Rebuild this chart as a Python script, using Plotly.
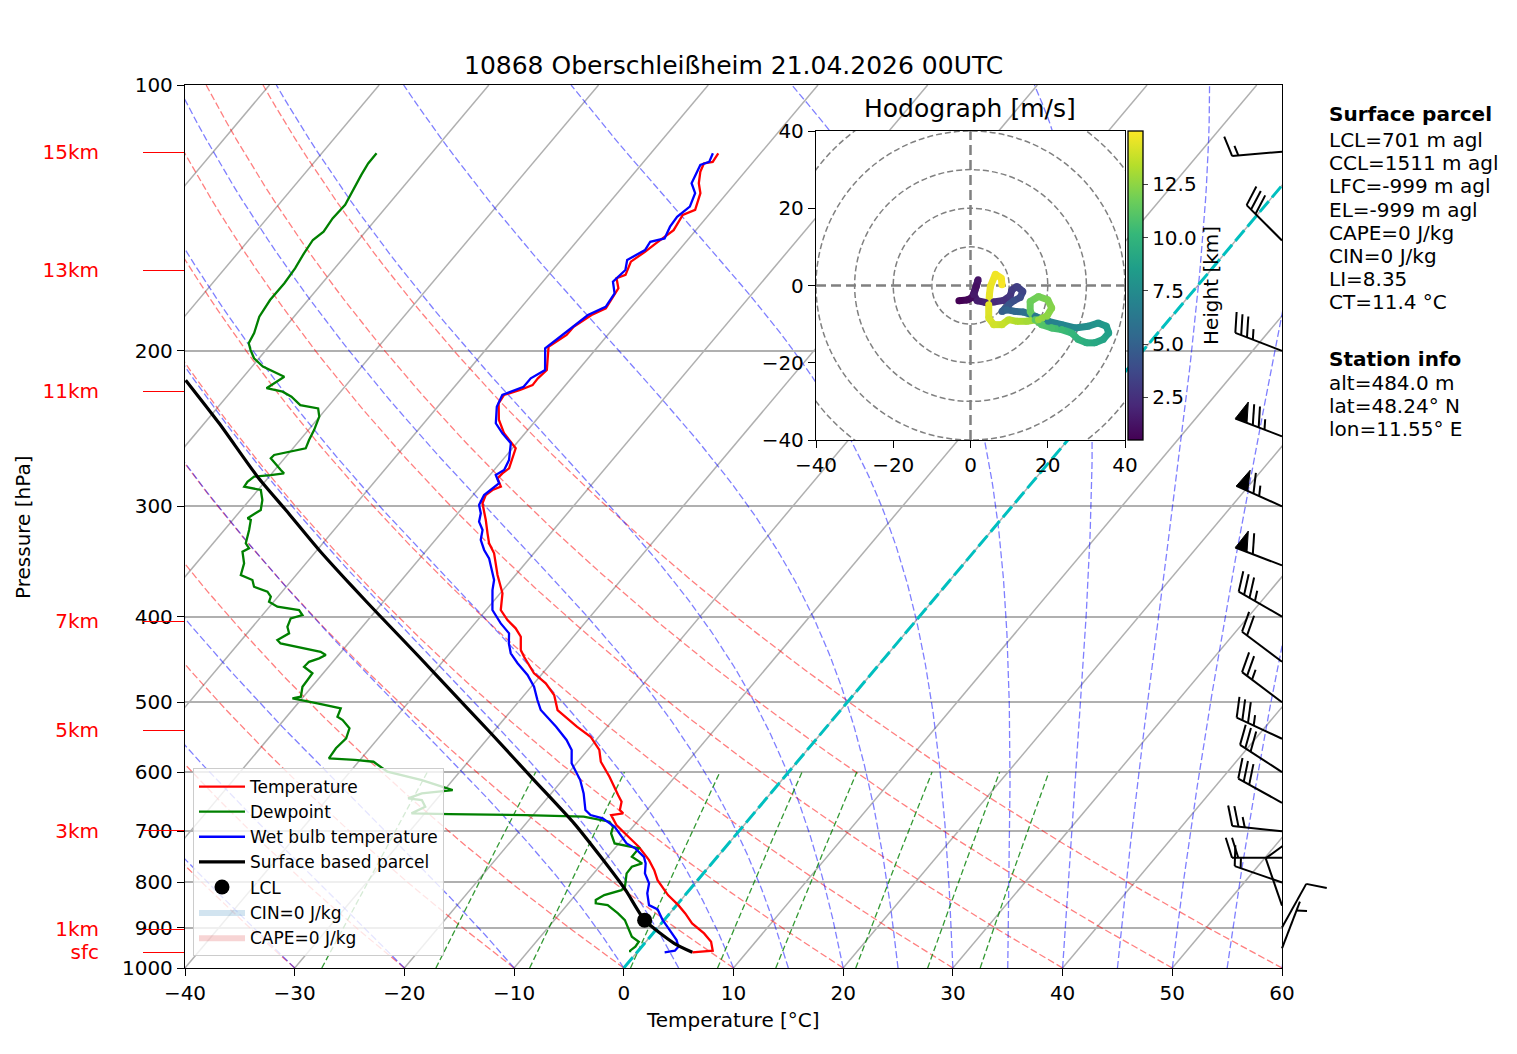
import numpy as np
import plotly.graph_objects as go
from plotly.colors import sample_colorscale

TITLE = "10868 Oberschleißheim 21.04.2026 00UTC"

# ---- sounding (pressure hPa, value degC) ----
T_P = [959.9, 955.9, 933.7, 913.8, 890.3, 867.4, 848.8, 826.9, 795.2, 774.7, 754.8, 729.0, 710.2,
       688.9, 671.1, 668.2, 662.4, 648.2, 637.0, 607.3, 584.0, 566.3, 547.1, 533.0, 510.3, 490.7,
       476.0, 463.7, 444.1, 436.4, 421.5, 412.4, 403.6, 393.2, 376.4, 358.9, 339.1, 330.4, 321.9,
       310.9, 297.7, 291.3, 287.5, 285.0, 278.9, 275.3, 271.7, 263.6, 257.9, 248.0, 239.4, 229.4,
       224.4, 221.5, 218.7, 214.9, 210.3, 197.9, 191.9, 187.8, 182.2, 179.0, 169.9, 165.5, 164.1,
       158.5, 154.5, 151.1, 146.0, 140.3, 138.5, 132.6, 129.2, 125.4, 122.7, 122.2, 119.5]
T_C = [5.04, 6.78, 5.94, 4.67, 2.81, 1.42, 0.15, -1.56, -3.66, -4.73, -5.97, -7.93, -9.64,
       -11.63, -12.88, -11.91, -12.47, -12.95, -13.78, -15.97, -17.91, -18.95, -20.76, -22.78, -25.82, -27.28,
       -28.94, -30.78, -32.96, -33.77, -34.79, -35.90, -37.28, -38.66, -39.79, -41.64, -43.62, -44.84, -45.75,
       -46.93, -48.51, -48.85, -48.62, -48.11, -49.06, -48.99, -48.77, -49.35, -49.70, -51.91, -53.42, -54.70,
       -54.85, -53.77, -53.01, -53.04, -52.86, -54.49, -53.75, -53.74, -53.00, -52.22, -52.61, -53.55, -52.98,
       -53.51, -52.98, -52.64, -52.03, -52.37, -51.62, -52.42, -53.33, -54.07, -54.39, -53.70, -53.85]

TW_P = [959.9, 955.9, 946.0, 929.8, 905.9, 882.7, 858.3, 848.8, 823.2, 802.1, 781.3, 761.2, 748.3,
        732.0, 722.6, 691.9, 676.9, 671.1, 662.4, 634.2, 612.6, 586.4, 566.3, 551.8, 533.0, 510.3,
        497.2, 480.2, 465.8, 451.7, 440.2, 429.0, 417.8, 407.1, 393.2, 384.8, 373.2, 363.6, 351.2,
        343.6, 336.2, 327.5, 319.1, 312.3, 305.5, 299.0, 291.3, 287.5, 282.5, 276.5, 272.9, 265.9,
        254.5, 248.0, 241.6, 231.4, 224.4, 219.7, 214.9, 210.3, 198.7, 190.3, 182.2, 178.3, 172.2,
        167.0, 162.0, 157.8, 153.8, 150.5, 149.2, 144.7, 141.0, 137.3, 132.6, 129.2, 123.2, 122.2, 119.5]
TW_C = [2.52, 3.33, 3.35, 2.67, 1.28, -0.12, -1.41, -2.52, -3.58, -4.18, -5.33, -6.03, -6.69,
        -8.13, -9.30, -11.66, -13.40, -14.76, -15.61, -17.05, -18.38, -20.45, -21.47, -22.70, -24.67, -27.35,
        -28.42, -29.75, -31.24, -33.05, -34.43, -35.36, -36.12, -37.64, -39.42, -40.06, -40.95, -41.57, -42.89,
        -43.69, -44.78, -45.86, -46.46, -47.41, -47.90, -48.69, -49.00, -48.77, -48.53, -49.47, -49.09, -49.41,
        -50.53, -52.06, -53.43, -54.61, -55.01, -53.69, -53.69, -53.02, -54.68, -54.00, -53.33, -52.35, -52.56,
        -53.61, -53.37, -53.98, -53.11, -53.27, -52.22, -52.62, -52.74, -52.36, -52.90, -53.99, -54.59, -54.02, -54.34]

TD_P = [959.9, 955.9, 946.0, 933.7, 921.8, 901.9, 882.7, 867.4, 848.8, 844.7, 837.5, 826.9, 816.3,
        809.3, 781.3, 767.9, 761.2, 748.3, 732.0, 722.6, 703.9, 691.9, 682.9, 674.0, 671.1, 669.4,
        668.2, 656.8, 645.3, 642.5, 634.2, 628.8, 623.4, 612.6, 599.4, 588.9, 584.0, 581.3, 578.8,
        563.8, 549.4, 535.3, 523.8, 519.3, 508.1, 501.5, 495.0, 492.9, 480.2, 471.9, 463.7, 455.9,
        450.0, 446.0, 442.2, 438.4, 432.7, 429.0, 425.2, 417.8, 410.7, 401.8, 398.3, 393.2, 389.8,
        384.8, 379.7, 374.8, 370.0, 363.6, 358.9, 348.1, 337.7, 334.7, 330.4, 319.1, 310.9, 309.5,
        302.9, 295.1, 287.5, 285.0, 281.4, 277.7, 276.5, 275.3, 272.9, 264.7, 262.4, 260.2, 257.9,
        252.4, 245.9, 237.4, 232.4, 230.4, 225.4, 222.5, 220.5, 214.0, 208.4, 203.9, 199.5, 196.1,
        191.0, 183.0, 175.2, 167.7, 161.3, 155.1, 149.8, 146.6, 141.6, 136.7, 132.1, 126.4, 122.7, 119.5]
TD_C = [-0.62, -0.75, -0.58, -0.65, -1.66, -2.61, -3.57, -4.71, -6.29, -7.52, -7.77, -7.37, -6.18,
        -6.12, -7.00, -7.03, -6.35, -7.79, -7.81, -10.39, -11.48, -11.81, -12.52, -15.26, -20.72, -27.71,
        -31.21, -30.46, -31.29, -32.67, -31.80, -29.24, -30.43, -32.82, -36.60, -38.05, -38.63, -40.48, -42.96,
        -43.09, -42.92, -43.38, -44.64, -45.37, -45.71, -48.22, -50.88, -50.24, -50.86, -50.91, -50.98, -52.24,
        -52.17, -51.51, -51.16, -51.88, -54.38, -56.17, -56.72, -56.17, -56.83, -57.17, -56.36, -57.05, -59.28,
        -60.42, -60.65, -61.34, -62.94, -63.60, -65.04, -65.64, -66.68, -66.34, -67.02, -67.74, -68.35, -68.78,
        -68.21, -68.83, -69.74, -71.51, -71.59, -71.37, -69.98, -68.90, -69.45, -71.26, -71.21, -69.95, -68.84,
        -69.17, -69.48, -70.04, -70.77, -72.65, -74.10, -75.29, -77.02, -76.28, -79.01, -80.46, -81.42, -82.09,
        -82.37, -83.16, -83.46, -83.44, -83.61, -83.95, -84.16, -83.82, -84.02, -83.91, -84.28, -84.74, -84.99, -85.00]

PARCEL_P = [959.9, 937.7, 882.7, 816.3, 748.3, 685.8, 612.6, 542.2, 505.9, 444.1, 398.3, 370.0,
            336.2, 302.9, 277.7, 241.6, 215.9]
PARCEL_C = [5.04, 2.70, -1.77, -5.80, -10.63, -15.62, -22.59, -30.11, -34.44, -42.53, -49.37, -53.97,
            -59.83, -65.93, -71.06, -78.65, -85.01]
LCL_P = [882.7]
LCL_C = [-1.77]

# ---- wind barbs (direction deg, speed kt) ----
WIND_P = [950, 900, 850, 800, 750, 700, 650, 600, 550, 500, 450, 400, 350, 300, 250, 200, 150, 119]
WIND_DIR = [21, 29, 341, 289, 270, 276, 299, 303, 295, 307, 307, 300, 291, 294, 291, 291, 315, 265]
WIND_KT = [5, 10, 10, 15, 20, 25, 30, 30, 35, 25, 20, 35, 60, 65, 75, 35, 30, 15]

# ---- hodograph (m/s) coloured by height (km) ----
HODO_U = [-3.0, -0.86, 0.43, 1.46, 1.97, 0.86, 1.72, 3.86, 6.01, 8.58, 10.30, 10.73, 12.02, 13.56,
          12.88, 11.16, 9.87, 8.15, 9.44, 11.59, 13.73, 16.74, 20.17, 23.61, 27.04, 30.47, 33.05,
          35.19, 35.79, 34.33, 32.19, 30.04, 27.90, 26.18, 23.61, 21.03, 18.45, 16.74, 15.45, 15.45,
          17.60, 20.0, 21.03, 19.74, 17.60, 14.59, 12.02, 9.87, 8.15, 6.01, 4.72, 4.72, 4.89, 5.15,
          6.44, 8.0, 8.15]
HODO_V = [-3.95, -3.78, -3.09, -0.26, 1.46, -2.40, -3.95, -4.38, -4.29, -3.86, -2.66, -1.12, -0.26,
          -1.55, -3.09, -3.95, -4.98, -6.70, -6.27, -6.70, -6.87, -7.98, -9.27, -10.13, -10.99, -10.56,
          -9.70, -10.56, -12.27, -13.99, -14.85, -14.85, -13.99, -12.27, -11.42, -10.99, -10.13, -8.84,
          -6.70, -4.12, -2.83, -3.69, -5.84, -7.98, -8.84, -9.27, -9.27, -8.84, -10.13, -10.13, -8.41,
          -4.98, -2.40, -0.26, 2.92, 1.89, 0.17]
HODO_Z = [0.5, 0.7, 0.9, 1.1, 1.3, 1.5, 1.7, 1.9, 2.2, 2.5, 2.8, 3.0, 3.2, 3.5, 3.8, 4.1, 4.4, 4.8,
          5.1, 5.4, 5.8, 6.3, 6.8, 7.1, 7.4, 7.7, 8.0, 8.3, 8.6, 8.9, 9.2, 9.5, 9.8, 10.1, 10.4, 10.7,
          11.0, 11.3, 11.5, 11.7, 11.9, 12.1, 12.3, 12.5, 12.7, 13.0, 13.3, 13.6, 13.8, 14.0, 14.2,
          14.4, 14.5, 14.6, 14.7, 14.8, 14.9]

HEIGHT_P = [959.2, 903.4, 699.5, 537.7, 404.6, 222.1, 162.0, 119.1]
HEIGHT_LABEL = ["sfc", "1km", "3km", "5km", "7km", "11km", "13km", "15km"]

PARCEL_TEXT = ["LCL=701 m agl", "CCL=1511 m agl", "LFC=-999 m agl", "EL=-999 m agl",
               "CAPE=0 J/kg", "CIN=0 J/kg", "LI=8.35", "CT=11.4 °C"]
STATION_TEXT = ["alt=484.0 m", "lat=48.24° N", "lon=11.55° E"]

SKEW = 67.7          # degC shift per decade of pressure
FONT = "DejaVu Sans"

# page geometry (px): plot box 185..1282 x 85..968, paper extends to 1340 for the barbs
LEFT, RIGHT_PAPER, TOP, BOTTOM = 185, 1340, 85, 968
PW = RIGHT_PAPER - LEFT
PH = BOTTOM - TOP
PX_Y = float(PH)     # px per pressure decade


def xp(px):
    return (px - LEFT) / PW


def yp(py):
    return (BOTTOM - py) / PH


def skew_x(t, p):
    return np.asarray(t, float) + SKEW * np.log10(1000.0 / np.asarray(p, float))


def joined(lines_x, lines_y):
    xs, ys = [], []
    for lx, ly in zip(lines_x, lines_y):
        xs += list(lx) + [None]
        ys += list(ly) + [None]
    return xs, ys


def moist_lapse(t0c, pres):
    rd, cp, lv, eps = 287.04749, 1004.666, 2.50084e6, 0.6219569

    def rate(p, t):
        es = 6.112 * np.exp(17.67 * (t - 273.15) / (t - 29.65))
        rs = eps * es / (p - es)
        return (rd * t + lv * rs) / (cp + lv * lv * rs * eps / (rd * t * t)) / p

    t = np.asarray(t0c, float) + 273.15
    out = [t.copy()]
    for i in range(1, len(pres)):
        p0, h = pres[i - 1], pres[i] - pres[i - 1]
        k1 = rate(p0, t)
        k2 = rate(p0 + h / 2, t + h / 2 * k1)
        k3 = rate(p0 + h / 2, t + h / 2 * k2)
        k4 = rate(p0 + h, t + h * k3)
        t = t + h / 6 * (k1 + 2 * k2 + 2 * k3 + k4)
        out.append(t.copy())
    return np.array(out).T - 273.15


fig = go.Figure()
pgrid = np.linspace(1000, 100, 181)

# isotherms (skewed grid)
iso = np.arange(-110, 61, 10)
ix, iy = joined([skew_x([t, t], [1000, 100]) for t in iso], [[1000, 100]] * len(iso))
fig.add_trace(go.Scatter(x=ix, y=iy, mode="lines", line=dict(color="#b0b0b0", width=1.5),
                         hoverinfo="skip", showlegend=False))

# dry adiabats
dry_t0 = np.arange(-40, 61, 10)
dx, dy = joined([skew_x((t0 + 273.15) * (pgrid / 1000.0) ** 0.2857 - 273.15, pgrid) for t0 in dry_t0],
                [pgrid] * len(dry_t0))
fig.add_trace(go.Scatter(x=dx, y=dy, mode="lines", line=dict(color="rgba(255,0,0,0.5)", width=1.3, dash="7px,3px"),
                         hoverinfo="skip", showlegend=False))

# moist adiabats
moist_t0 = np.concatenate((np.arange(-40, 0, 10), np.arange(0, 61, 5)))
moist = moist_lapse(moist_t0, pgrid)
mx, my = joined([skew_x(m, pgrid) for m in moist], [pgrid] * len(moist))
fig.add_trace(go.Scatter(x=mx, y=my, mode="lines", line=dict(color="rgba(0,0,255,0.5)", width=1.3, dash="7px,3px"),
                         hoverinfo="skip", showlegend=False))

# mixing ratio lines
mix_w = [0.0004, 0.001, 0.002, 0.004, 0.007, 0.01, 0.016, 0.024, 0.032]
pmix = np.linspace(1000, 600, 41)
mix_lines = []
for w in mix_w:
    val = np.log(pmix * w / (0.622 + w) / 6.112)
    mix_lines.append(skew_x(243.5 * val / (17.67 - val), pmix))
wx, wy = joined(mix_lines, [pmix] * len(mix_w))
fig.add_trace(go.Scatter(x=wx, y=wy, mode="lines", line=dict(color="rgba(0,128,0,0.8)", width=1.3, dash="6px,3px"),
                         hoverinfo="skip", showlegend=False))

# 0 degC isotherm
fig.add_trace(go.Scatter(x=skew_x([0, 0], [1000, 100]), y=[1000, 100], mode="lines",
                         line=dict(color="#00bfbf", width=3, dash="14px,5px"), hoverinfo="skip", showlegend=False))

# profiles
fig.add_trace(go.Scatter(x=skew_x(T_C, T_P), y=T_P, mode="lines", name="Temperature",
                         line=dict(color="red", width=2.3)))
fig.add_trace(go.Scatter(x=skew_x(TD_C, TD_P), y=TD_P, mode="lines", name="Dewpoint",
                         line=dict(color="green", width=2.3)))
fig.add_trace(go.Scatter(x=skew_x(TW_C, TW_P), y=TW_P, mode="lines", name="Wet bulb temperature",
                         line=dict(color="blue", width=2.3)))
fig.add_trace(go.Scatter(x=skew_x(PARCEL_C, PARCEL_P), y=PARCEL_P, mode="lines", name="Surface based parcel",
                         line=dict(color="black", width=3.2, shape="spline", smoothing=0.6)))
fig.add_trace(go.Scatter(x=skew_x(LCL_C, LCL_P), y=LCL_P, mode="markers", name="LCL",
                         marker=dict(color="black", size=15)))
fig.add_trace(go.Scatter(x=[None], y=[None], mode="lines", fill="toself", name="CIN=0 J/kg",
                         fillcolor="rgba(31,119,180,0.2)", line=dict(width=0)))
fig.add_trace(go.Scatter(x=[None], y=[None], mode="lines", fill="toself", name="CAPE=0 J/kg",
                         fillcolor="rgba(214,39,40,0.2)", line=dict(width=0)))

# height labels axis needs a trace
fig.add_trace(go.Scatter(x=[0], y=[500], yaxis="y3", mode="markers", marker=dict(opacity=0),
                         hoverinfo="skip", showlegend=False))

# wind barbs, drawn on their own subplot (x in px from the right edge, y = pressure)
L = 50.0
BH, BW, BS = 0.4 * L, 0.25 * L, 0.125 * L
bx, by, fx, fy = [], [], [], []
for p0, wd, ws in zip(WIND_P, WIND_DIR, WIND_KT):
    u = -ws * np.sin(np.radians(wd))
    v = -ws * np.cos(np.radians(wd))
    mag = np.hypot(u, v)
    d = np.array([-u, -v]) / mag
    n = np.array([-v, u]) / mag

    def to_data(a, b):
        px = a * n + b * d
        return px[0], p0 * 10 ** (-px[1] / PX_Y)

    segs = [[(0, 0), (0, L)]]
    spd = int(5 * round(ws / 5))
    nflag, nfull, half = spd // 50, (spd % 50) // 10, (spd % 10) >= 5
    off = L
    for i in range(nflag):
        if off != L:
            off += BS / 2
        tri = [to_data(0, off), to_data(BH, off - BW / 2), to_data(0, off - BW)]
        fx += [q[0] for q in tri] + [None]
        fy += [q[1] for q in tri] + [None]
        off -= BW + BS
    for i in range(nfull):
        segs.append([(0, off), (BH, off + BW / 2)])
        off -= BS
    if half:
        if off == L:
            off -= 1.5 * BS
        segs.append([(0, off), (BH / 2, off + BW / 4)])
    for s in segs:
        pts = [to_data(a, b) for a, b in s]
        bx += [q[0] for q in pts] + [None]
        by += [q[1] for q in pts] + [None]

fig.add_trace(go.Scatter(x=bx, y=by, xaxis="x4", yaxis="y4", mode="lines", line=dict(color="black", width=2),
                         hoverinfo="skip", showlegend=False))
fig.add_trace(go.Scatter(x=fx, y=fy, xaxis="x4", yaxis="y4", mode="lines", fill="toself", fillcolor="black",
                         line=dict(color="black", width=1), hoverinfo="skip", showlegend=False))

# hodograph
zmin, zmax = 0.5, 15.0
for i in range(len(HODO_U) - 1):
    c = sample_colorscale("Viridis", [(0.5 * (HODO_Z[i] + HODO_Z[i + 1]) - zmin) / (zmax - zmin)])[0]
    fig.add_trace(go.Scatter(x=HODO_U[i:i + 2], y=HODO_V[i:i + 2], xaxis="x2", yaxis="y2", mode="lines",
                             line=dict(color=c, width=7), hoverinfo="skip", showlegend=False))
fig.add_trace(go.Scatter(
    x=HODO_U, y=HODO_V, xaxis="x2", yaxis="y2", mode="markers", showlegend=False,
    marker=dict(size=7, color=HODO_Z, colorscale="Viridis", cmin=zmin, cmax=zmax,
                colorbar=dict(x=xp(1128), xanchor="left", y=yp(131), yanchor="top", len=309, lenmode="pixels",
                              thickness=15, outlinewidth=1.3, outlinecolor="black", xpad=0, ypad=0,
                              tickvals=[2.5, 5, 7.5, 10, 12.5], ticktext=["2.5", "5.0", "7.5", "10.0", "12.5"],
                              ticks="outside", ticklen=5, tickfont=dict(size=20),
                              title=dict(text="Height [km]", side="right", font=dict(size=20))))))

shapes = [dict(type="rect", xref="x2", yref="y2", x0=-40, x1=40, y0=-40, y1=40, layer="below",
               fillcolor="white", line=dict(width=0))]
for r in [10, 20, 30, 40, 50]:
    shapes.append(dict(type="circle", xref="x2", yref="y2", x0=-r, x1=r, y0=-r, y1=r, layer="below",
                       line=dict(color="grey", width=1.5, dash="6px,3px")))
shapes.append(dict(type="line", xref="x2", yref="y2", x0=-40, x1=40, y0=0, y1=0, layer="below",
                   line=dict(color="grey", width=2.5, dash="10px,5px")))
shapes.append(dict(type="line", xref="x2", yref="y2", x0=0, x1=0, y0=-40, y1=40, layer="below",
                   line=dict(color="grey", width=2.5, dash="10px,5px")))

annotations = [
    dict(text=TITLE, x=xp(733), y=yp(65), font=dict(size=25), xanchor="center"),
    dict(text="Hodograph [m/s]", x=xp(970), y=yp(108), font=dict(size=25), xanchor="center"),
    dict(text="Pressure [hPa]", x=xp(23), y=yp(528), textangle=-90, xanchor="center"),
    dict(text="Temperature [°C]", x=xp(733), y=yp(1020), xanchor="center"),
    dict(text="<b>Surface parcel</b>", x=xp(1327), y=yp(114), xanchor="left"),
    dict(text="<b>Station info</b>", x=xp(1327), y=yp(359), xanchor="left"),
]
for i, s in enumerate(PARCEL_TEXT):
    annotations.append(dict(text=s, x=xp(1327), y=yp(140 + i * 23.2), xanchor="left"))
for i, s in enumerate(STATION_TEXT):
    annotations.append(dict(text=s, x=xp(1327), y=yp(383 + i * 23.2), xanchor="left"))
for a in annotations:
    a.update(xref="paper", yref="paper", showarrow=False, yanchor="middle")

p_ticks = [100, 200, 300, 400, 500, 600, 700, 800, 900, 1000]
axis_common = dict(showline=True, linecolor="black", linewidth=1.3, mirror=True, ticks="outside",
                   ticklen=7, tickwidth=1.3, tickcolor="black", zeroline=False)

fig.update_layout(
    width=1517, height=1054, autosize=False,
    margin=dict(l=LEFT, r=1517 - RIGHT_PAPER, t=TOP, b=1054 - BOTTOM),
    paper_bgcolor="white", plot_bgcolor="rgba(0,0,0,0)",
    font=dict(family=FONT, size=20, color="black"),
    legend=dict(x=xp(193), y=yp(768), xanchor="left", yanchor="top", bgcolor="rgba(255,255,255,0.8)",
                bordercolor="#cccccc", borderwidth=1, font=dict(size=17), itemwidth=46, tracegroupgap=0),
    xaxis=dict(domain=[0, xp(1282)], range=[-40, 60], tickvals=list(range(-40, 61, 10)), showgrid=False,
               **axis_common),
    yaxis=dict(type="log", range=[3, 2], tickvals=p_ticks, ticktext=[str(p) for p in p_ticks],
               showgrid=True, gridcolor="#b0b0b0", gridwidth=1.5, **axis_common),
    yaxis3=dict(type="log", range=[3, 2], overlaying="y", side="left", anchor="x", tickvals=HEIGHT_P,
                ticktext=HEIGHT_LABEL, tickfont=dict(color="red", size=20), ticks="outside", ticklen=41,
                tickcolor="red", tickwidth=1.3, showgrid=False, showline=False, zeroline=False,
                ticklabelstandoff=40),
    xaxis2=dict(domain=[xp(816), xp(1125)], anchor="y2", range=[-40, 40], tickvals=[-40, -20, 0, 20, 40],
                showgrid=False, **axis_common),
    yaxis2=dict(domain=[yp(440), yp(131)], anchor="x2", range=[-40, 40], tickvals=[-40, -20, 0, 20, 40],
                showgrid=False, **axis_common),
    xaxis4=dict(domain=[xp(1182), 1], anchor="y4", range=[-100, RIGHT_PAPER - 1282], visible=False),
    yaxis4=dict(domain=[0, 1], anchor="x4", type="log", range=[3, 2], visible=False),
    shapes=shapes,
    annotations=annotations,
)

fig.write_html("out.html", config={"displayModeBar": False},
               post_script="document.body.style.margin='0px';")
